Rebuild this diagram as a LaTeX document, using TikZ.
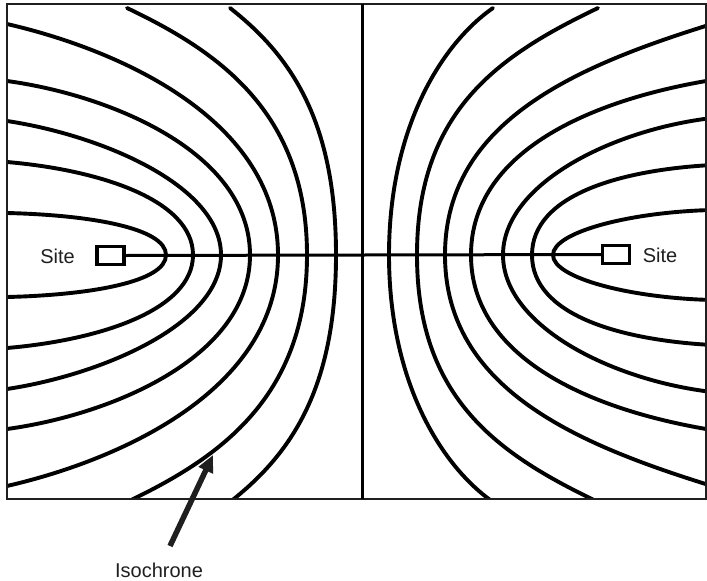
\documentclass[tikz,border=0pt]{standalone}
\usepackage{fontspec}
\setmainfont{Liberation Sans}
\usetikzlibrary{arrows.meta}
\newcommand\isocurve[6]{%
  \draw[isoline] (#1,#2) .. controls (#3,#4) and (#5,#6) .. (#5,255)
    .. controls (#5,{510-#6}) and (#3,{510-#4}) .. (#1,{510-#2});}
\begin{document}
\begin{tikzpicture}[x=1pt,y=-1pt,
  isoline/.style={line width=3.9pt, line cap=round},
  framebox/.style={line width=2.2pt, draw=black!88},
  vline/.style={line width=3.4pt},
  hline/.style={line width=3pt},
  sitebox/.style={draw, line width=3.3pt, minimum width=27pt, minimum height=18pt, inner sep=0pt, fill=white},
  lbl/.style={font=\fontsize{20}{24}\selectfont, inner sep=0pt, text=black!88},
  pointer/.style={line width=5.5pt, black!88, -{Triangle[length=17pt,width=15pt]}}
]
\useasboundingbox (0,0) rectangle (707,581);
\fill[white] (0,0) rectangle (707,581);
\begin{scope}
\clip (7,4) rectangle (706,499);
% left family (start, first control, vertex x, second control y)
\isocurve{7}{213}{90}{215}{166}{228}
\isocurve{7}{162}{100}{170}{193}{200}
\isocurve{7}{121}{100}{135}{221}{185}
\isocurve{7}{81}{110}{95}{250}{152}
\isocurve{7}{24}{120}{50}{278}{120}
\isocurve{127}{8}{215}{50}{307}{110}
\isocurve{230}{8}{290}{55}{336}{120}
% right family
\isocurve{493}{8}{440}{45}{389}{130}
\isocurve{598}{8}{500}{55}{417}{110}
\isocurve{712}{24}{580}{65}{445}{120}
\isocurve{712}{80}{590}{100}{471}{152}
\isocurve{712}{118}{610}{130}{503}{185}
\isocurve{712}{165}{620}{170}{532}{195}
\isocurve{712}{210}{630}{212}{553}{232}
\end{scope}
% frame and centre line
\draw[framebox] (7,4) rectangle (706,499);
\coordinate (vtop) at (362.5,4);
\coordinate (vbot) at (362.5,499);
\draw[vline] (vtop) -- (vbot);
% sites
\node[sitebox] (s1) at (110.5,255.5) {};
\node[sitebox] (s2) at (616,254.5) {};
\draw[hline] (s1.east) -- (s2.west);
\node[lbl] (t1) at (57.5,256) {Site};
\node[lbl] (t2) at (660,255) {Site};
% isochrone label
\node[lbl] (iso) at (159,570) {Isochrone};
\coordinate (tail) at (170,546);
\coordinate (tip) at (213,455);
\draw[pointer] (tail) -- (tip);
\end{tikzpicture}
\end{document}
